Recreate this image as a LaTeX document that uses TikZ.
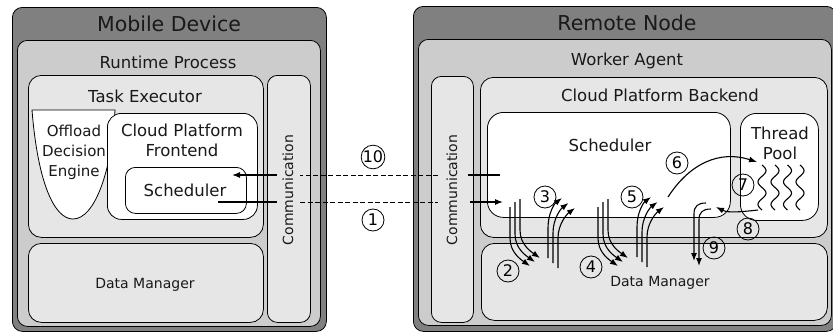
\documentclass[tikz,border=0pt]{standalone}
\usepackage{fontspec}
\setmainfont{DejaVu Sans}
\usetikzlibrary{arrows.meta}
\definecolor{gdark}{HTML}{808080}
\definecolor{gmid}{HTML}{CCCCCC}
\definecolor{glight}{HTML}{E6E6E6}
\tikzset{
 box/.style={draw=black, line width=0.8pt, rounded corners=10pt, inner sep=0pt, anchor=north west},
 lbl/.style={inner sep=0pt, align=center, text=black!90},
 big/.style={font=\fontsize{20.5}{24}\selectfont},
 med/.style={font=\fontsize{16.5}{20}\selectfont},
 sml/.style={font=\fontsize{14}{20}\selectfont},
 odl/.style={font=\fontsize{15}{20}\selectfont},
 num/.style={draw, circle, line width=0.8pt, minimum size=22pt, inner sep=0pt, font=\fontsize{16}{16}\selectfont},
 arr/.style={line width=1.1pt, -{Latex[length=8pt,width=6pt]}},
 ln/.style={line width=1.1pt},
 dsh/.style={line width=1pt, dash pattern=on 5pt off 2.5pt},
}
\begin{document}
\begin{tikzpicture}[x=1pt,y=-1pt]
\useasboundingbox (0,0) rectangle (833,332);
% ---------------- Mobile device
\node[box, fill=gdark, minimum width=314, minimum height=324] (mobile) at (12,7) {};
\node[box, fill=gmid, minimum width=303, minimum height=286] (runtime) at (17,40) {};
\node[box, fill=glight, minimum width=235, minimum height=162, rounded corners=13pt] (taskexec) at (28,75) {};
\node[box, fill=glight, minimum width=43, minimum height=247] (commL) at (267,75) {};
\node[box, fill=glight, minimum width=235, minimum height=79, rounded corners=13pt] (dataL) at (28,243) {};
\draw[fill=white, line width=0.8pt] (32,110) -- (115,110) .. controls (112,170) and (95,219) .. (73,219) .. controls (55,219) and (38,185) .. cycle;
\node[box, fill=white, minimum width=150, minimum height=106, rounded corners=14pt] (frontend) at (107,113) {};
\node[box, fill=white, minimum width=121, minimum height=46, rounded corners=10pt] (schedL) at (125,167) {};
\node[lbl,big] (tMobile) at (169,24) {Mobile Device};
\node[lbl,med] (tRuntime) at (168,62) {Runtime Process};
\node[lbl,med] (tTask) at (145,96) {Task Executor};
\node[lbl,odl] (tOffload) at (74,152) {Offload\\Decision\\Engine};
\node[lbl,med] (tFront) at (182,140) {Cloud Platform\\Frontend};
\node[lbl,med] (tSchedL) at (185,190) {Scheduler};
\node[lbl,sml] (tDataL) at (145,285) {Data Manager};
\node[lbl,sml,rotate=90] (tCommL) at (288,190) {Communication};
% ---------------- Remote node
\node[box, fill=gdark, minimum width=423, minimum height=325] (remote) at (413,6) {};
\node[box, fill=gmid, minimum width=413, minimum height=286] (worker) at (418,39) {};
\node[box, fill=glight, minimum width=42, minimum height=246] (commR) at (431,76) {};
\node[box, fill=glight, minimum width=347, minimum height=160, rounded corners=13pt] (backend) at (480,77) {};
\node[box, fill=white, minimum width=243, minimum height=105, rounded corners=16pt] (schedR) at (487,112) {};
\node[box, fill=white, minimum width=78, minimum height=107, rounded corners=16pt] (pool) at (740,113) {};
\node[box, fill=glight, minimum width=346, minimum height=77, rounded corners=13pt] (dataR) at (481,243) {};
\node[lbl,big] (tRemote) at (627,23) {Remote Node};
\node[lbl,med] (tWorker) at (627,61) {Worker Agent};
\node[lbl,med] (tBackend) at (660,95) {Cloud Platform Backend};
\node[lbl,med] (tSchedR) at (610,145) {Scheduler};
\node[lbl,med] (tPool) at (780,143) {Thread\\Pool};
\node[lbl,sml] (tDataR) at (660,283) {Data Manager};
\node[lbl,sml,rotate=90] (tCommR) at (452,190) {Communication};
% ---------------- thread squiggles
\foreach \xx in {762,775,787.5,800}{
  \draw[line width=1.1pt] plot[smooth, domain=0:45, samples=46] ({\xx+4*sin(\x*16)}, {165+\x});
}
% ---------------- connectors 10 and 1
\coordinate (a10) at (500,175); \coordinate (b10) at (468,175);
\coordinate (c10) at (438,175); \coordinate (d10) at (300,175);
\coordinate (e10) at (277,175); \coordinate (f10) at (232,175);
\draw[ln] (a10) -- (b10);
\draw[dsh] (c10) -- (d10);
\draw[arr] (e10) -- (f10);
\coordinate (a1) at (218,202); \coordinate (b1) at (277,202);
\coordinate (c1) at (300,202); \coordinate (d1) at (438,202);
\coordinate (e1) at (470,202); \coordinate (f1) at (503,202);
\draw[ln] (a1) -- (b1);
\draw[dsh] (c1) -- (d1);
\draw[arr] (e1) -- (f1);
% ---------------- groups 2 and 4 (down into data manager)
\foreach \dx in {0,88}{
 \foreach \i/\yt in {0/207,1/202,2/199}{
  \draw[arr] ({510+\dx+5*\i},\yt) -- ({510+\dx+5*\i},{238-4*\i})
     .. controls ({510+\dx+5*\i},{252-4*\i}) and ({520+\dx+5*\i},{259-4*\i}) .. ({530+\dx+5*\i},{266-4*\i});
 }
}
% ---------------- groups 3 and 5 (up into scheduler)
\foreach \dx/\dy in {0/0,89/-1}{
 \foreach \i in {0,1,2}{
  \draw[arr] ({548+\dx+5*\i},{258+\dy+5*\i}) -- ({548+\dx+5*\i},{228+\dy+5*\i})
     .. controls ({548+\dx+5*\i},{214+\dy+5*\i}) and ({554+\dx+6.5*\i},{204+\dy+5*\i}) .. ({562+\dx+6.5*\i},{198+\dy+5*\i});
 }
}
% ---------------- arrow 6
\coordinate (a6) at (668,197); \coordinate (b6) at (757,162);
\draw[arr] (a6) .. controls (690,163) and (720,150) .. (b6);
% ---------------- arrow 8
\coordinate (a8) at (758,210); \coordinate (b8) at (716,207);
\draw[arr] (a8) .. controls (740,212) and (728,213) .. (b8);
% ---------------- arrows 9
\coordinate (a9) at (706,203); \coordinate (b9) at (694,261);
\coordinate (c9) at (711,209); \coordinate (d9) at (699,266);
\draw[arr] (a9) .. controls (698,203) and (694,206) .. (694,214) -- (b9);
\draw[arr] (c9) .. controls (703,209) and (699,212) .. (699,220) -- (d9);
% ---------------- numbers
\node[num] (n10) at (373,157) {10};
\node[num] (n1) at (373,220) {1};
\node[num] (n2) at (508,271) {2};
\node[num] (n3) at (545,197) {3};
\node[num] (n4) at (591,267) {4};
\node[num] (n5) at (632,197) {5};
\node[num] (n6) at (677,163) {6};
\node[num] (n7) at (743,185) {7};
\node[num] (n8) at (748,229) {8};
\node[num] (n9) at (714,248) {9};
\end{tikzpicture}
\end{document}
